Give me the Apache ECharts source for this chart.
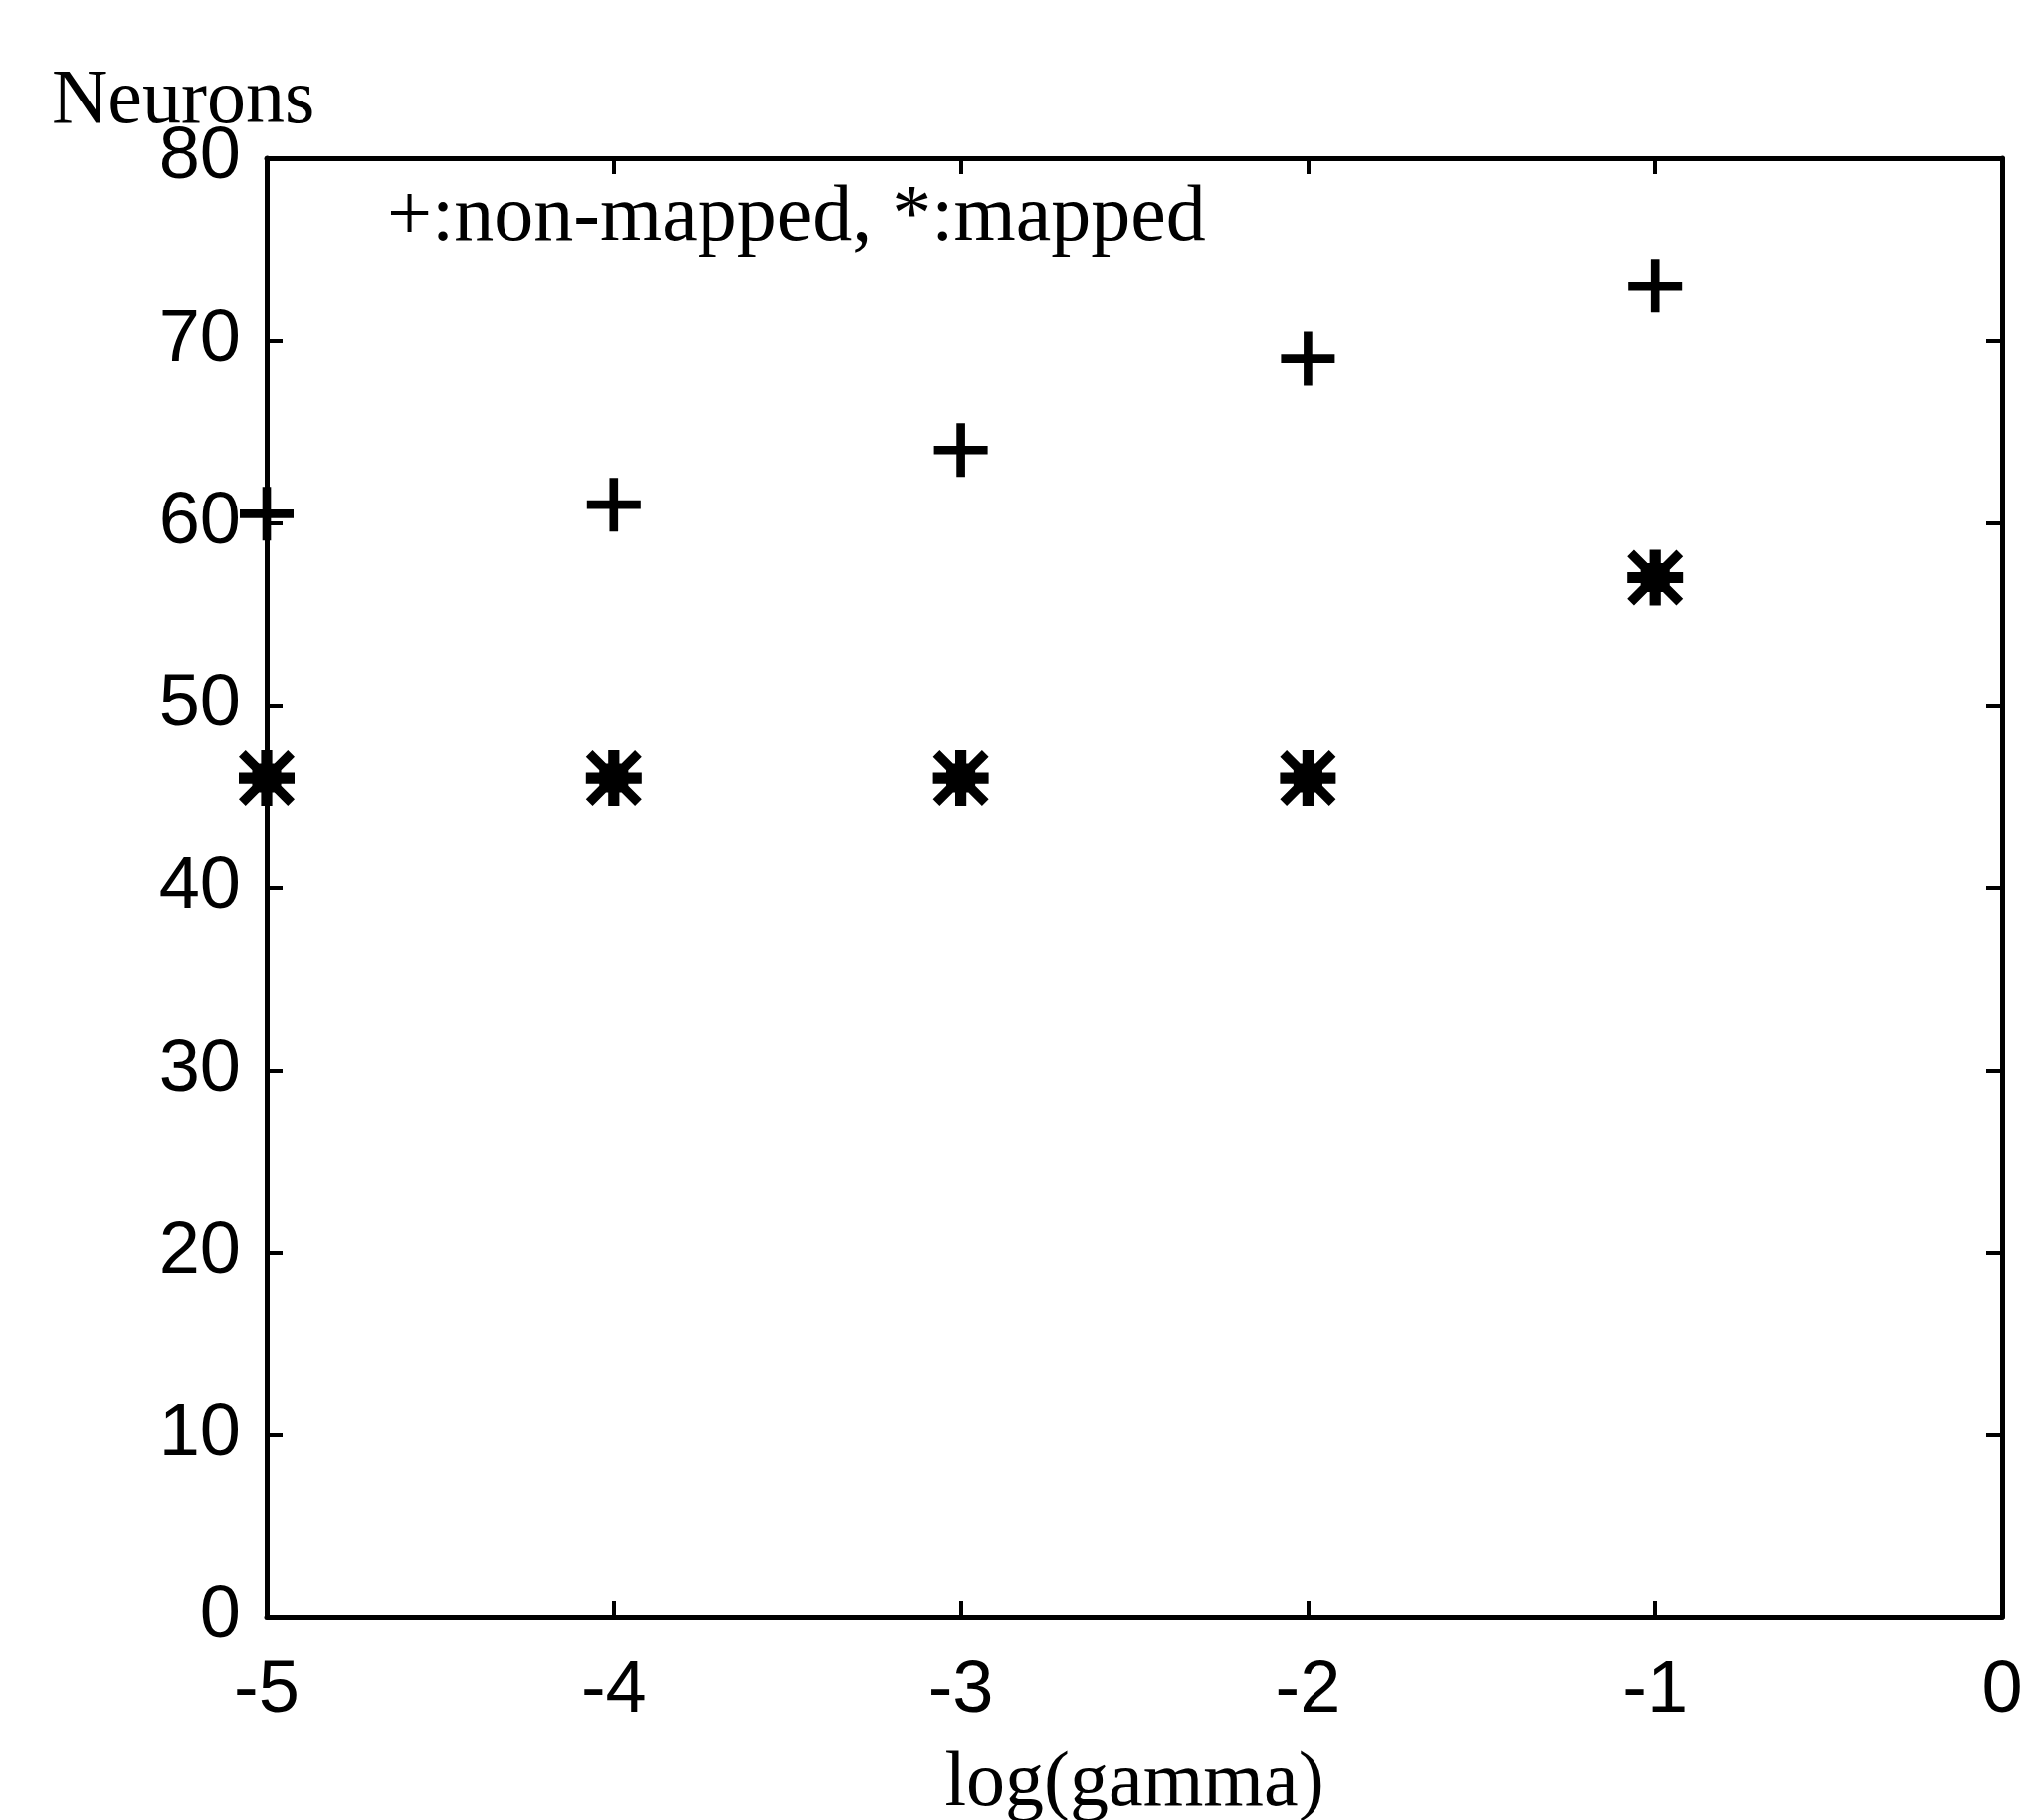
<!DOCTYPE html>
<html>
<head>
<meta charset="utf-8">
<script src="https://cdn.jsdelivr.net/npm/echarts@6/dist/echarts.min.js"></script>
<style>
  html, body { margin: 0; padding: 0; background: #fff; }
  #neurons { width: 2031px; height: 1829px; }
</style>
</head>
<body>
<div id="neurons"></div>
<script>
// 数据
var xMin = -5, xMax = 0, xStep = 1;
var yMin = 0, yMax = 80, yStep = 10;

var gammaNonMapped = [-5, -4, -3, -2, -1];
var neuronsNonMapped = [60.5, 61, 64, 69, 73];

var gammaMapped = [-5, -4, -3, -2, -1];
var neuronsMapped = [46, 46, 46, 46, 57];

var legendText = '+:non-mapped, *:mapped';

// 标记形状
var plusPath = 'path://M0 42L100 42L100 58L0 58ZM42 0L58 0L58 100L42 100Z';
var starPath = 'path://M0 40L100 40L100 60L0 60ZM40 0L60 0L60 100L40 100Z' +
    'M0 12L12 0L100 88L88 100ZM88 0L100 12L12 100L0 88ZM24 24L76 24L76 76L24 76Z';

function pairs(xs, ys) {
    return xs.map(function (x, i) { return [x, ys[i]]; });
}

var chart = echarts.init(document.getElementById('neurons'));

var lineStyle = { color: '#000', width: 5 };
var tickStyle = { show: true, inside: true, length: 16, lineStyle: { color: '#000', width: 4 } };
var labelFont = { color: '#000', fontFamily: 'Liberation Sans', fontSize: 74 };

option = {
    backgroundColor: '#fff',
    animation: false,
    grid: { left: 268, right: 19, top: 159, bottom: 204, outerBoundsMode: 'none', containLabel: false },
    xAxis: [
        {
            type: 'value', min: xMin, max: xMax, interval: xStep,
            axisLine: { show: true, onZero: false, lineStyle: lineStyle },
            axisTick: tickStyle,
            splitLine: { show: false },
            axisLabel: Object.assign({ margin: 38 }, labelFont),
            name: 'log(gamma)',
            nameLocation: 'middle',
            nameGap: 130,
            nameTextStyle: { color: '#000', fontFamily: 'Liberation Serif', fontSize: 78 }
        },
        {
            type: 'value', position: 'top', min: xMin, max: xMax, interval: xStep,
            axisLine: { show: true, onZero: false, lineStyle: lineStyle },
            axisTick: tickStyle,
            splitLine: { show: false },
            axisLabel: { show: false }
        }
    ],
    yAxis: [
        {
            type: 'value', min: yMin, max: yMax, interval: yStep,
            axisLine: { show: true, onZero: false, lineStyle: lineStyle },
            axisTick: tickStyle,
            splitLine: { show: false },
            axisLabel: Object.assign({ margin: 26 }, labelFont)
        },
        {
            type: 'value', position: 'right', min: yMin, max: yMax, interval: yStep,
            axisLine: { show: true, onZero: false, lineStyle: lineStyle },
            axisTick: tickStyle,
            splitLine: { show: false },
            axisLabel: { show: false }
        }
    ],
    graphic: [
        {
            type: 'text', left: 52, top: 64,
            style: { text: 'Neurons', fill: '#000', font: '78px "Liberation Serif"' }
        },
        {
            type: 'text', left: 389, top: 180,
            style: { text: legendText, fill: '#000', font: '80px "Liberation Serif"' }
        }
    ],
    series: [
        {
            name: 'non-mapped',
            type: 'scatter',
            clip: false,
            symbol: plusPath,
            symbolSize: [54, 54],
            itemStyle: { color: '#000', opacity: 1 },
            data: pairs(gammaNonMapped, neuronsNonMapped)
        },
        {
            name: 'mapped',
            type: 'scatter',
            clip: false,
            symbol: starPath,
            symbolSize: [56, 56],
            itemStyle: { color: '#000', opacity: 1 },
            data: pairs(gammaMapped, neuronsMapped)
        }
    ]
};

chart.setOption(option);
</script>
</body>
</html>
